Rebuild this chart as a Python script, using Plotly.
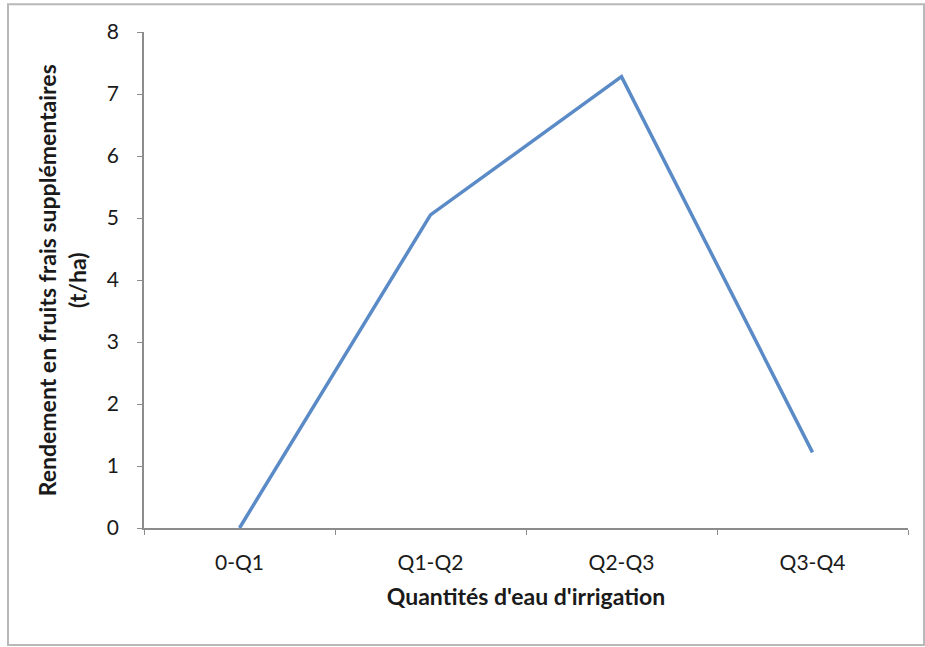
import plotly.graph_objects as go

categories = ["0-Q1", "Q1-Q2", "Q2-Q3", "Q3-Q4"]
values = [0.0, 5.05, 7.28, 1.22]
y_ticks = [0, 1, 2, 3, 4, 5, 6, 7, 8]

x_title = "Quantités d'eau d'irrigation"
y_title = "Rendement en fruits frais supplémentaires<br>(t/ha)"

FONT = "Lato"
AXIS_COLOR = "#8c8c8c"

fig = go.Figure()
fig.add_trace(go.Scatter(
    x=categories, y=values, mode="lines",
    line=dict(color="#5b8bc7", width=3.5),
    showlegend=False, hoverinfo="x+y",
))

fig.update_layout(
    width=925, height=647,
    margin=dict(l=144, r=17, t=32, b=119),
    paper_bgcolor="white", plot_bgcolor="white",
    font=dict(family=FONT, color="#1a1a1a"),
    xaxis=dict(
        type="category", range=[-0.5, 3.5],
        tickson="boundaries", ticks="outside", ticklen=5, tickcolor=AXIS_COLOR,
        showline=True, linecolor=AXIS_COLOR, linewidth=1.5,
        showgrid=False, zeroline=False,
        tickfont=dict(family=FONT, size=21, color="#1a1a1a"),
        ticklabelstandoff=15,
        title=dict(text="<b>" + x_title + "</b>", font=dict(family=FONT, size=23, color="#1a1a1a"), standoff=16),
    ),
    yaxis=dict(
        range=[0, 8], tickvals=y_ticks, ticktext=[str(v) for v in y_ticks],
        ticks="outside", ticklen=5, tickcolor=AXIS_COLOR,
        showline=True, linecolor=AXIS_COLOR, linewidth=1.5,
        showgrid=False, zeroline=False,
        tickfont=dict(family=FONT, size=21, color="#1a1a1a"),
        ticklabelstandoff=14,
    ),
    annotations=[dict(
        text="<b>" + y_title + "</b>", textangle=-90,
        xref="paper", yref="paper", x=-0.107, y=0.5,
        xanchor="center", yanchor="middle", showarrow=False,
        font=dict(family=FONT, size=23, color="#1a1a1a"),
    )],
    shapes=[dict(
        type="rect", xref="paper", yref="paper",
        x0=-0.178, x1=1.021, y0=-0.236, y1=1.056,
        line=dict(color="#b8b8b8", width=2), fillcolor="rgba(0,0,0,0)", layer="below",
    )],
)

fig.write_html("out.html")
